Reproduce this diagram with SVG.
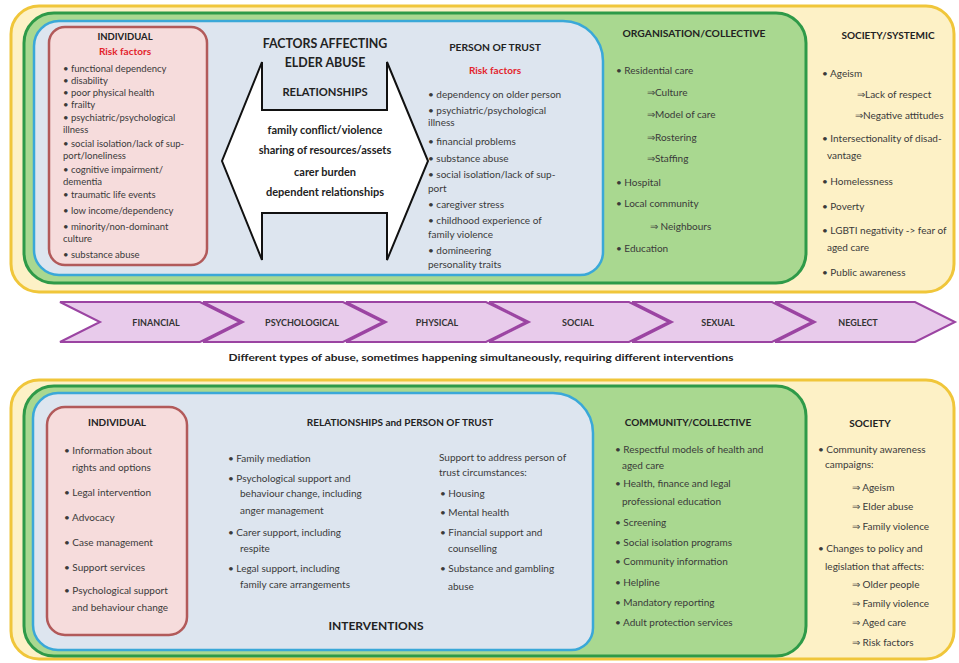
<svg xmlns="http://www.w3.org/2000/svg" width="959" height="663" viewBox="0 0 959 663">
<style>
.t{font-family:Lato,"Liberation Sans",sans-serif;font-size:10px;fill:#3a3a3a}
.s{font-size:10px}
.i{font-size:9.5px}
.b{font-weight:bold;fill:#222}
.r{font-weight:bold;fill:#e3232b}
.c{text-anchor:middle}
.yel{fill:#fdf1c6;stroke:#f0c63a;stroke-width:3}
.grn{fill:#a9d890;stroke:#2e9a48;stroke-width:3}
.blu{fill:#dde5ef;stroke:#3aa8d8;stroke-width:2.5}
.red{fill:#f6dcdc;stroke:#b25a5a;stroke-width:2.5}
.chev{fill:#e8cbeb;stroke:#9b44a2;stroke-width:2}
.ch{font-family:Lato,"Liberation Sans",sans-serif;font-size:9px;font-weight:bold;fill:#333;text-anchor:middle}
</style>

<!-- TOP: FACTORS -->
<g id="society-systemic">
<rect class="yel" x="11" y="6" width="943" height="286" rx="28"/>
<text class="t b c" x="888" y="38.5">SOCIETY/SYSTEMIC</text>
<text class="t" x="822" y="76.5">• Ageism</text>
<text class="t" x="857" y="97.5">⇒Lack of respect</text>
<text class="t" x="855" y="118.5">⇒Negative attitudes</text>
<text class="t" x="822" y="141.5">• Intersectionality of disad-</text>
<text class="t" x="827" y="158.5">vantage</text>
<text class="t" x="822" y="184.5">• Homelessness</text>
<text class="t" x="822" y="209.5">• Poverty</text>
<text class="t" x="822" y="233.5">• LGBTI negativity -&gt; fear of</text>
<text class="t" x="827" y="250.5">aged care</text>
<text class="t" x="822" y="275.5">• Public awareness</text>
</g>

<g id="organisation-collective">
<rect class="grn" x="24" y="13" width="782" height="270" rx="30"/>
<text class="t b c" x="694" y="36.5" style="font-size:10.3px">ORGANISATION/COLLECTIVE</text>
<text class="t" x="616" y="73.5">• Residential care</text>
<text class="t" x="647" y="95.5">⇒Culture</text>
<text class="t" x="647" y="117.5">⇒Model of care</text>
<text class="t" x="647" y="140.5">⇒Rostering</text>
<text class="t" x="647" y="161.5">⇒Staffing</text>
<text class="t" x="616" y="185.5">• Hospital</text>
<text class="t" x="616" y="206.5">• Local community</text>
<text class="t" x="650" y="229.5">⇒ Neighbours</text>
<text class="t" x="616" y="251.5">• Education</text>
</g>

<g id="person-of-trust">
<path class="blu" d="M59,21 H563 A40,40 0 0 1 603,61 V252 A23,23 0 0 1 580,275 H59 A25,25 0 0 1 34,250 V46 A25,25 0 0 1 59,21 Z"/>
<text class="t b c" x="495" y="50.5" style="font-size:10.3px">PERSON OF TRUST</text>
<text class="t r c" x="495" y="73.5">Risk factors</text>
<text class="t" x="428" y="97.5">• dependency on older person</text>
<text class="t" x="428" y="113.5">• psychiatric/psychological</text>
<text class="t" x="428" y="125.5">illness</text>
<text class="t" x="428" y="144.5">• financial problems</text>
<text class="t" x="428" y="161.5">• substance abuse</text>
<text class="t" x="428" y="177.5">•  social isolation/lack of sup-</text>
<text class="t" x="428" y="191.5">port</text>
<text class="t" x="428" y="207.5">• caregiver stress</text>
<text class="t" x="428" y="224">• childhood experience of</text>
<text class="t" x="428" y="237.5">family violence</text>
<text class="t" x="428" y="254">•  domineering</text>
<text class="t" x="428" y="267.5">personality traits</text>
</g>

<g id="individual-risk">
<rect class="red" x="49" y="27" width="158" height="238" rx="16"/>
<text class="t b c" x="125" y="40" style="font-size:9.5px">INDIVIDUAL</text>
<text class="t r c" x="125" y="55">Risk factors</text>
<text class="t i" x="63" y="72">• functional dependency</text>
<text class="t i" x="63" y="84">• disability</text>
<text class="t i" x="63" y="96">• poor physical health</text>
<text class="t i" x="63" y="108">• frailty</text>
<text class="t i" x="63" y="121">• psychiatric/psychological</text>
<text class="t i" x="63" y="133">illness</text>
<text class="t i" x="63" y="147">• social isolation/lack of sup-</text>
<text class="t i" x="63" y="159">port/loneliness</text>
<text class="t i" x="63" y="172.5">• cognitive impairment/</text>
<text class="t i" x="63" y="184.5">dementia</text>
<text class="t i" x="63" y="198">• traumatic life events</text>
<text class="t i" x="63" y="214">• low income/dependency</text>
<text class="t i" x="63" y="229.5">• minority/non-dominant</text>
<text class="t i" x="63" y="241.5">culture</text>
<text class="t i" x="63" y="258">• substance abuse</text>
</g>

<g id="relationships">
<polygon points="262,62 262,110 387,110 387,62 428,161 387,260 387,213 262,213 262,260 222,161" fill="#fff" stroke="#111" stroke-width="2" stroke-linejoin="miter"/>
<text class="t b c" x="325" y="47.5" style="font-size:12.4px">FACTORS AFFECTING</text>
<text class="t b c" x="325" y="67" style="font-size:12.4px">ELDER ABUSE</text>
<text class="t b c" x="325" y="96" style="font-size:11.2px">RELATIONSHIPS</text>
<text class="t b c" x="325" y="133.5" style="font-size:11px">family conflict/violence</text>
<text class="t b c" x="325" y="153.5" style="font-size:11px">sharing of resources/assets</text>
<text class="t b c" x="325" y="175.5" style="font-size:11px">carer burden</text>
<text class="t b c" x="325" y="195.5" style="font-size:11px">dependent relationships</text>
</g>

<!-- MIDDLE: TYPES OF ABUSE -->
<g id="abuse-types">
<polygon class="chev" points="60,302 200,302 240,322 200,342 60,342 100,322"/>
<polygon class="chev" points="203,302 343,302 383,322 343,342 203,342 243,322"/>
<polygon class="chev" points="346,302 486,302 526,322 486,342 346,342 386,322"/>
<polygon class="chev" points="489,302 629,302 669,322 629,342 489,342 529,322"/>
<polygon class="chev" points="632,302 772,302 812,322 772,342 632,342 672,322"/>
<polygon class="chev" points="775,302 915,302 955,322 915,342 775,342 815,322"/>
<text class="ch" x="156" y="325.5">FINANCIAL</text>
<text class="ch" x="302" y="325.5">PSYCHOLOGICAL</text>
<text class="ch" x="437" y="325.5">PHYSICAL</text>
<text class="ch" x="578" y="325.5">SOCIAL</text>
<text class="ch" x="718" y="325.5">SEXUAL</text>
<text class="ch" x="858" y="325.5">NEGLECT</text>
<text class="t b c" x="481" y="361" textLength="505" lengthAdjust="spacingAndGlyphs" style="font-size:9.5px">Different types of abuse, sometimes happening simultaneously, requiring different interventions</text>
</g>

<!-- BOTTOM: INTERVENTIONS -->
<g id="society">
<rect class="yel" x="11" y="380" width="943" height="279" rx="28"/>
<text class="t s b c" x="870" y="426.5">SOCIETY</text>
<text class="t s" x="818" y="452.5">• Community awareness</text>
<text class="t s" x="825" y="467.5">campaigns:</text>
<text class="t s" x="852" y="490.5">⇒ Ageism</text>
<text class="t s" x="852" y="509.5">⇒ Elder abuse</text>
<text class="t s" x="852" y="529.5">⇒ Family violence</text>
<text class="t s" x="818" y="551.5">• Changes to policy and</text>
<text class="t s" x="825" y="569.5">legislation that affects:</text>
<text class="t s" x="852" y="587.5">⇒ Older people</text>
<text class="t s" x="852" y="606.5">⇒ Family violence</text>
<text class="t s" x="852" y="625.5">⇒ Aged care</text>
<text class="t s" x="852" y="645.5">⇒ Risk factors</text>
</g>

<g id="community-collective">
<rect class="grn" x="24" y="386" width="782" height="270" rx="30"/>
<text class="t s b c" x="688" y="425.5">COMMUNITY/COLLECTIVE</text>
<text class="t s" x="615" y="452.5">• Respectful models of health and</text>
<text class="t s" x="622" y="468.5">aged care</text>
<text class="t s" x="615" y="486.5">• Health, finance and legal</text>
<text class="t s" x="622" y="504.5">professional education</text>
<text class="t s" x="615" y="525.5">• Screening</text>
<text class="t s" x="615" y="545.5">• Social isolation programs</text>
<text class="t s" x="615" y="564.5">• Community information</text>
<text class="t s" x="615" y="585.5">• Helpline</text>
<text class="t s" x="615" y="605.5">• Mandatory reporting</text>
<text class="t s" x="615" y="625.5">• Adult protection services</text>
</g>

<g id="relationships-person-of-trust">
<path class="blu" d="M58,393 H553 A40,40 0 0 1 593,433 V628 A22,22 0 0 1 571,650 H58 A25,25 0 0 1 33,625 V418 A25,25 0 0 1 58,393 Z"/>
<text class="t s b c" x="400" y="425.5">RELATIONSHIPS and PERSON OF TRUST</text>
<text class="t s" x="228" y="461.5">• Family mediation</text>
<text class="t s" x="228" y="481.5">• Psychological support and</text>
<text class="t s" x="240" y="496.5">behaviour change, including</text>
<text class="t s" x="240" y="513.5">anger management</text>
<text class="t s" x="228" y="535.5">• Carer support, including</text>
<text class="t s" x="240" y="551.5">respite</text>
<text class="t s" x="228" y="571.5">• Legal support, including</text>
<text class="t s" x="240" y="587.5">family care arrangements</text>
<text class="t s" x="439" y="460.5">Support to address person of</text>
<text class="t s" x="439" y="475.5">trust circumstances:</text>
<text class="t s" x="440" y="496.5">• Housing</text>
<text class="t s" x="440" y="515.5">• Mental health</text>
<text class="t s" x="440" y="535.5">• Financial support and</text>
<text class="t s" x="448" y="551.5">counselling</text>
<text class="t s" x="440" y="571.5">• Substance and gambling</text>
<text class="t s" x="448" y="589.5">abuse</text>
<text class="t b c" x="376" y="629.5" style="font-size:12px">INTERVENTIONS</text>
</g>

<g id="individual-interventions">
<rect class="red" x="47" y="407" width="140" height="228" rx="18"/>
<text class="t s b c" x="117" y="425.5">INDIVIDUAL</text>
<text class="t s" x="64" y="453.5">• Information about</text>
<text class="t s" x="72" y="470.5">rights and options</text>
<text class="t s" x="64" y="495.5">• Legal intervention</text>
<text class="t s" x="64" y="520.5">• Advocacy</text>
<text class="t s" x="64" y="545.5">• Case management</text>
<text class="t s" x="64" y="570.5">• Support services</text>
<text class="t s" x="64" y="593.5">• Psychological support</text>
<text class="t s" x="72" y="610.5">and behaviour change</text>
</g>

<g id="connectors"></g>
</svg>
